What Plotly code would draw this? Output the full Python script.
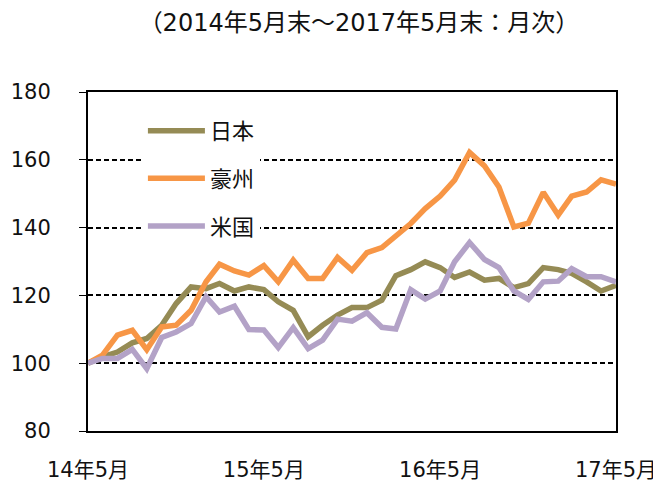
import plotly.graph_objects as go
import pandas as pd

months = pd.date_range("2014-05-31", "2017-05-31", freq="ME").strftime("%Y-%m-%d").tolist()

japan = [100, 101.9, 103.3, 106, 107.3, 111.2, 117.6, 122.5, 122, 123.5, 121.3, 122.5,
         121.7, 118.1, 115.6, 107.8, 111.2, 114.2, 116.4, 116.4, 118.6, 125.8, 127.6, 129.9,
         128.2, 125.3, 126.9, 124.5, 125, 122.3, 123.5, 128.2, 127.6, 126.5, 124, 121.3, 123]
australia = [100, 102.4, 108.3, 109.7, 104, 110.7, 111.2, 115.6, 124, 129.2, 127.2, 126,
             128.8, 124, 130.4, 125, 125, 131.2, 127.4, 132.6, 134.1, 137.3, 141.2, 145.6,
             149.3, 154, 162.2, 158.2, 152, 140.2, 141.3, 150.4, 143.7, 149.3, 150.5, 154.1, 152.8]
usa = [100, 101.4, 101.4, 104.1, 98.4, 107.6, 109.2, 111.7, 119.6, 115.1, 116.8, 109.9,
       109.8, 104.6, 110.5, 104.3, 106.8, 113, 112.4, 114.9, 110.6, 110.1, 121.7, 118.9,
       121.3, 129.9, 135.6, 130.6, 128.2, 121.3, 118.8, 124, 124.2, 127.9, 125.5, 125.5, 124]

series_names = ["日本", "豪州", "米国"]
colors = ["#958B55", "#F79646", "#B3A2C7"]

x_tickvals = ["2014-05-31", "2015-05-31", "2016-05-31", "2017-05-31"]
x_ticktext = ["14年5月", "15年5月", "16年5月", "17年5月"]
y_tickvals = [80, 100, 120, 140, 160, 180]

fig = go.Figure()
for i, (name, vals) in enumerate(zip(series_names, [japan, australia, usa])):
    fig.add_trace(go.Scatter(
        x=months, y=vals, name=name, mode="lines",
        line=dict(color=colors[i], width=5.5),
        legendgroup=name,
    ))

cjk = "Noto Sans CJK JP"
mixed = "DejaVu Sans, Noto Sans CJK JP"
# the page body adds an 8px offset, so the figure is 8px smaller than the window
fig.update_layout(
    width=653, height=474,
    margin=dict(l=80, r=45, t=84, b=51),
    paper_bgcolor="white", plot_bgcolor="white",
    title=dict(text="（2014年5月末～2017年5月末：月次）", x=0.5375, xanchor="center",
               y=0.970, yanchor="middle", font=dict(family=mixed, size=24, color="#111")),
    showlegend=True,
    legend=dict(x=0.104, y=0.947, xanchor="left", yanchor="top",
                bgcolor="white", font=dict(family=cjk, size=22, color="#111"),
                tracegroupgap=16, itemwidth=57, traceorder="grouped"),
)
fig.update_xaxes(
    range=[months[0], months[-1]], tickvals=x_tickvals, ticktext=x_ticktext,
    showgrid=False, showline=True, linecolor="black", linewidth=2, mirror=True,
    ticks="", ticklabelstandoff=19, automargin=False,
    tickfont=dict(family=mixed, size=21, color="#111"),
)
fig.update_yaxes(
    range=[80, 180], tickvals=y_tickvals,
    showgrid=True, gridcolor="black", gridwidth=2, griddash="5px,3px",
    showline=True, linecolor="black", linewidth=2, mirror=True,
    ticks="outside", ticklen=7, tickcolor="black", ticklabelstandoff=24,
    automargin=False,
    tickfont=dict(family="DejaVu Sans", size=21, color="#111"),
    zeroline=False,
)
fig.write_html("out.html")
